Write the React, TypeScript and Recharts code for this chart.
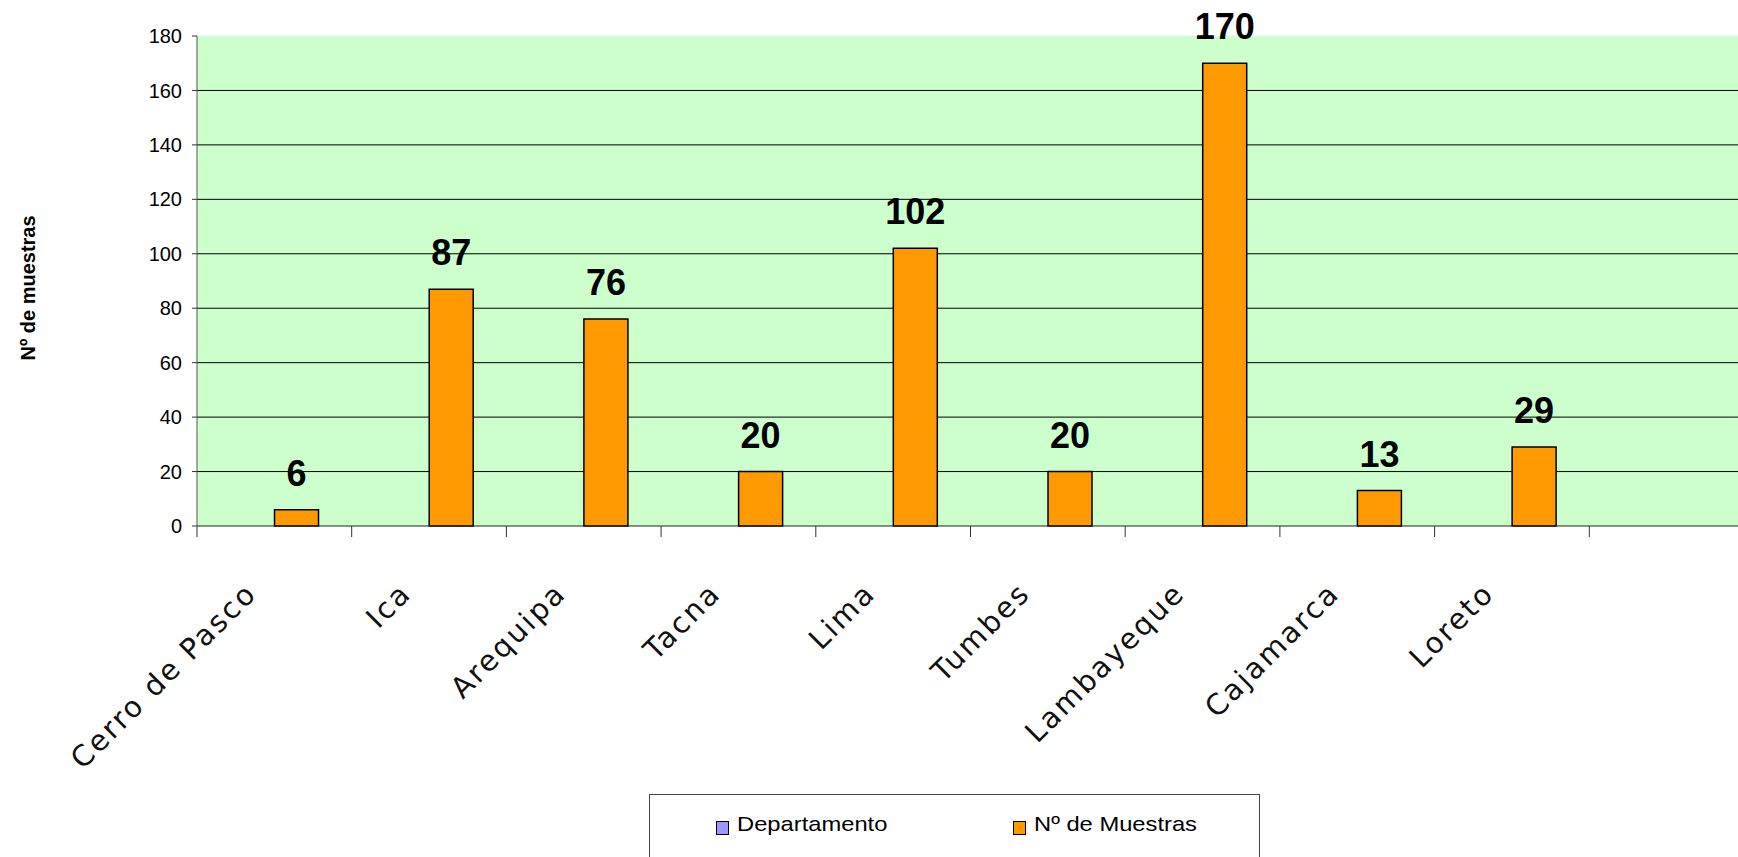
import React from 'react';
import { BarChart, Bar, XAxis, YAxis, CartesianGrid, LabelList, Legend, Label, ReferenceLine } from 'recharts';

const categories = ['Cerro de Pasco', 'Ica', 'Arequipa', 'Tacna', 'Lima', 'Tumbes', 'Lambayeque', 'Cajamarca', 'Loreto', ''];
const departamento = [0, 0, 0, 0, 0, 0, 0, 0, 0, 0];
const muestras: (number | null)[] = [6, 87, 76, 20, 102, 20, 170, 13, 29, null];
const yTicks = [0, 20, 40, 60, 80, 100, 120, 140, 160, 180];
const gridValues = [20, 40, 60, 80, 100, 120, 140, 160];

const data = categories.map((c, i) => ({ name: c, departamento: departamento[i], muestras: muestras[i] }));

const SANS = '"Liberation Sans", Arial, sans-serif';
const LABEL_FONT = '"DejaVu Sans", Verdana, sans-serif';

function CategoryTick(props: any) {
  const { x, y, payload, width, visibleTicksCount } = props;
  const half = payload && typeof payload.offset === 'number' && payload.offset > 0 ? payload.offset : width / visibleTicksCount / 2;
  const tx = x - 16;
  const ty = y + 69;
  return (
    <g>
      <line x1={x - half} x2={x - half} y1={y} y2={y + 11} stroke="#333" strokeWidth={1} />
      <text x={tx} y={ty} textAnchor="end" transform={`rotate(-45 ${tx} ${ty})`} fontFamily={LABEL_FONT} fontSize={29} letterSpacing={2.3} fill="#111">
        {payload.value}
      </text>
    </g>
  );
}

function LegendBox() {
  const sq = (color: string, left: number) => (
    <div style={{ position: 'absolute', left, top: 26, width: 11, height: 12, background: color, border: '1px solid #000' }} />
  );
  const txt = (text: string, left: number) => (
    <span style={{ position: 'absolute', left, top: 18, fontFamily: SANS, fontSize: 21, lineHeight: '21px', color: '#000', whiteSpace: 'nowrap', transform: 'scaleX(1.13)', transformOrigin: 'left center' }}>{text}</span>
  );
  return (
    <div style={{ position: 'relative', width: 609, height: 80, border: '1px solid #444', background: '#fff', boxSizing: 'content-box' }}>
      {sq('#9999FF', 66)}
      {txt('Departamento', 87)}
      {sq('#FF9900', 363)}
      {txt('Nº de Muestras', 384)}
    </div>
  );
}

export default function App() {
  return (
    <div style={{ position: 'absolute', left: 0, top: 0, width: 1738, height: 857, overflow: 'hidden', background: '#fff' }}>
      <BarChart
        width={1744}
        height={857}
        data={data}
        margin={{ top: 36, right: 0, bottom: 0, left: 0 }}
        barCategoryGap="21.66%"
        barGap={0}
      >
        <CartesianGrid vertical={false} horizontalValues={gridValues} stroke="#000" fill="#CCFFCC" fillOpacity={1} />
        <ReferenceLine y={180} stroke="#CCFFFF" strokeWidth={1} />
        <XAxis
          dataKey="name"
          interval={0}
          height={331}
          tickSize={0}
          tickMargin={0}
          tickLine={false}
          axisLine={{ stroke: '#222' }}
          tick={<CategoryTick />}
        />
        <YAxis
          width={197}
          domain={[0, 180]}
          ticks={yTicks}
          interval={0}
          tickSize={5}
          tickMargin={10}
          axisLine={{ stroke: '#555' }}
          tickLine={{ stroke: '#333' }}
          tick={{ fontSize: 20, fill: '#000', fontFamily: SANS }}
        >
          <Label
            content={(p: any) => {
              const vb = p.viewBox || { x: 0, y: 36, width: 197, height: 490 };
              const lx = vb.x + 28;
              const ly = vb.y + vb.height / 2 + 7;
              return (
                <text x={lx} y={ly} transform={`rotate(-90 ${lx} ${ly})`} textAnchor="middle" dominantBaseline="central" fontFamily={SANS} fontWeight="bold" fontSize={20} fill="#000">
                  Nº de muestras
                </text>
              );
            }}
          />
        </YAxis>
        <Legend
          layout="vertical"
          verticalAlign="middle"
          align="center"
          wrapperStyle={{ left: 649, top: 794, width: 611, height: 82 }}
          content={() => <LegendBox />}
        />
        <Bar dataKey="departamento" name="Departamento" fill="#9999FF" stroke="#000" isAnimationActive={false} />
        <Bar dataKey="muestras" name="Nº de Muestras" fill="#FF9900" stroke="#000" strokeWidth={1.5} isAnimationActive={false}>
          <LabelList dataKey="muestras" position="top" offset={24} fill="#000" fontFamily={SANS} fontWeight="bold" fontSize={36} />
        </Bar>
      </BarChart>
    </div>
  );
}
